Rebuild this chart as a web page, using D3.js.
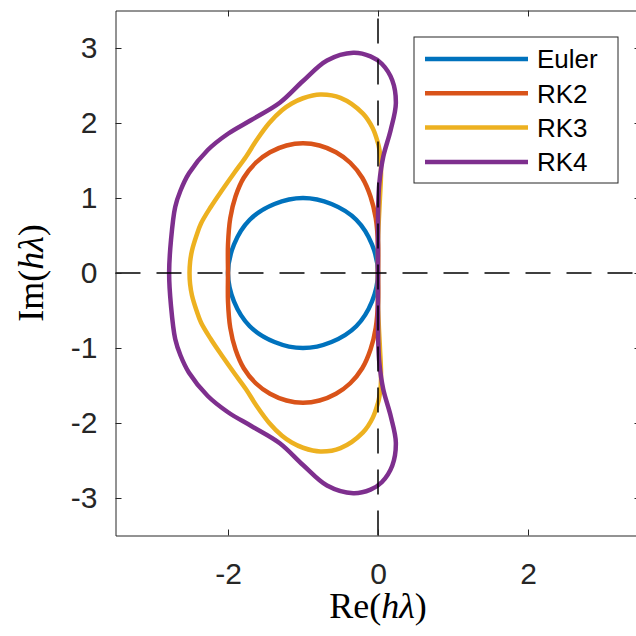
<!DOCTYPE html>
<html>
<head>
<meta charset="utf-8">
<script src="https://cdn.jsdelivr.net/npm/d3@7"></script>
<style>
  body { margin: 0; background: #fff; }
  svg { display: block; }
</style>
</head>
<body>
<div id="chart-area"></div>
<script>
// stability region boundaries, [Re, Im]
var methods = ["Euler", "RK2", "RK3", "RK4"];
var colors = ["#0072BD", "#D95319", "#EDB120", "#7E2F8E"];

var eulerPts = [[0,0],[-0.08,0.38],[-0.29,0.71],[-0.62,0.92],[-1,1],[-1.38,0.92],[-1.71,0.71],[-1.92,0.38],
  [-2,0],[-1.92,-0.38],[-1.71,-0.71],[-1.38,-0.92],[-1,-1],[-0.62,-0.92],[-0.29,-0.71],[-0.08,-0.38]];

var rk2Pts = [[0,0],[0,0.38],[-0.03,0.73],[-0.10,1.02],[-0.21,1.27],[-0.37,1.47],[-0.56,1.61],[-0.78,1.70],
  [-1,1.73],[-1.22,1.70],[-1.44,1.61],[-1.63,1.47],[-1.79,1.27],[-1.90,1.02],[-1.97,0.73],[-2,0.38],
  [-2,0],[-2,-0.38],[-1.97,-0.73],[-1.90,-1.02],[-1.79,-1.27],[-1.63,-1.47],[-1.44,-1.61],[-1.22,-1.70],
  [-1,-1.73],[-0.78,-1.70],[-0.56,-1.61],[-0.37,-1.47],[-0.21,-1.27],[-0.10,-1.02],[-0.03,-0.73],[0,-0.38]];

var rk3Pts = [[0,0],[0.003,0.5],[0.026,1.0],[0.04,1.3],[0.037,1.5],[0.018,1.65],[0,1.73],[-0.07,1.93],
  [-0.2,2.125],[-0.5,2.335],[-0.77,2.38],[-1.0,2.33],[-1.15,2.26],[-1.28,2.17],[-1.45,2.0],[-1.62,1.77],
  [-1.76,1.55],[-1.92,1.33],[-2.075,1.11],[-2.23,0.88],[-2.36,0.66],[-2.42,0.5],[-2.48,0.3],[-2.505,0.15],
  [-2.513,0],
  [-2.505,-0.15],[-2.48,-0.3],[-2.42,-0.5],[-2.36,-0.66],[-2.23,-0.88],[-2.075,-1.11],[-1.92,-1.33],
  [-1.76,-1.55],[-1.62,-1.77],[-1.45,-2.0],[-1.28,-2.17],[-1.15,-2.26],[-1.0,-2.33],[-0.77,-2.38],
  [-0.5,-2.335],[-0.2,-2.125],[-0.07,-1.93],[0,-1.73],[0.018,-1.65],[0.037,-1.5],[0.04,-1.3],
  [0.026,-1.0],[0.003,-0.5]];

var rk4Pts = [[0,0],[0,0.5],[0.003,0.9],[0.018,1.2],[0.07,1.55],[0.17,1.91],[0.238,2.26],[0.19,2.57],
  [0.05,2.79],[-0.1,2.889],[-0.33,2.937],[-0.68,2.834],[-1.0,2.56],[-1.31,2.27],[-1.69,2.04],
  [-1.995,1.86],[-2.27,1.64],[-2.52,1.33],[-2.633,1.1],[-2.704,0.88],[-2.76,0.44],[-2.785,0],
  [-2.76,-0.44],[-2.704,-0.88],[-2.633,-1.1],[-2.52,-1.33],[-2.27,-1.64],[-1.995,-1.86],[-1.69,-2.04],
  [-1.31,-2.27],[-1.0,-2.56],[-0.68,-2.834],[-0.33,-2.937],[-0.1,-2.889],[0.05,-2.79],[0.19,-2.57],
  [0.238,-2.26],[0.17,-1.91],[0.07,-1.55],[0.018,-1.2],[0.003,-0.9],[0,-0.5]];

var curves = [eulerPts, rk2Pts, rk3Pts, rk4Pts];
var xTicks = [-2, 0, 2];
var yTicks = [-3, -2, -1, 0, 1, 2, 3];
var axisMin = -3.5, axisMax = 3.5;

var W = 636, H = 636;
var plotLeft = 115.5, plotRight = 640.5, plotTop = 10.5, plotBottom = 535.5;
var axisColor = "#262626";

var svg = d3.select("#chart-area").append("svg")
    .attr("width", W)
    .attr("height", H);

var x = d3.scaleLinear().domain([axisMin, axisMax]).range([plotLeft, plotRight]);
var y = d3.scaleLinear().domain([axisMin, axisMax]).range([plotBottom, plotTop]);

var line = d3.line()
    .x(function(d){ return x(d[0]); })
    .y(function(d){ return y(d[1]); })
    .curve(d3.curveCatmullRomClosed.alpha(0.5));

// curves
svg.selectAll(".region")
    .data(curves)
    .enter()
    .append("path")
    .attr("class", "region")
    .attr("d", line)
    .attr("fill", "none")
    .attr("stroke", function(d, i){ return colors[i]; })
    .attr("stroke-width", 4.5)
    .attr("stroke-linejoin", "round");

// dashed zero lines
svg.append("line")
    .attr("x1", x(axisMin)).attr("y1", y(0))
    .attr("x2", x(axisMax)).attr("y2", y(0))
    .attr("stroke", "#000").attr("stroke-width", 1.5)
    .style("stroke-dasharray", "25,16");
svg.append("line")
    .attr("x1", x(0)).attr("y1", y(axisMin))
    .attr("x2", x(0)).attr("y2", y(axisMax))
    .attr("stroke", "#000").attr("stroke-width", 1.5)
    .style("stroke-dasharray", "25,16");

// axes (box with inward ticks)
var fmt = function(d){ return String(d); };
var xAxisCall = d3.axisBottom(x).tickValues(xTicks).tickFormat(fmt)
    .tickSizeInner(-6).tickSizeOuter(0).tickPadding(27);
var yAxisCall = d3.axisLeft(y).tickValues(yTicks).tickFormat(fmt)
    .tickSizeInner(-6).tickSizeOuter(0).tickPadding(18);

var gx = svg.append("g")
    .attr("transform", "translate(0," + plotBottom + ")")
    .call(xAxisCall);
var gy = svg.append("g")
    .attr("transform", "translate(" + plotLeft + ",0)")
    .call(yAxisCall);
var gt = svg.append("g")
    .attr("transform", "translate(0," + plotTop + ")")
    .call(d3.axisTop(x).tickValues(xTicks).tickSizeInner(-6).tickSizeOuter(0).tickFormat(""));
var gr = svg.append("g")
    .attr("transform", "translate(" + plotRight + ",0)")
    .call(d3.axisRight(y).tickValues(yTicks).tickSizeInner(-6).tickSizeOuter(0).tickFormat(""));

[gx, gy, gt, gr].forEach(function(g){
    g.select(".domain").attr("stroke", axisColor).attr("stroke-width", 1);
    g.selectAll(".tick line").attr("stroke", axisColor).attr("stroke-width", 1);
    g.selectAll(".tick text")
        .attr("fill", axisColor)
        .style("font-family", "'Liberation Sans', Arial, sans-serif")
        .style("font-size", "30px");
});

// axis labels
var xl = svg.append("text")
    .attr("x", x(0))
    .attr("y", 618)
    .attr("text-anchor", "middle")
    .style("font-family", "'Liberation Serif', 'DejaVu Serif', serif")
    .style("font-size", "36px")
    .attr("fill", "#000");
xl.append("tspan").text("Re(");
xl.append("tspan").style("font-style", "italic").text("hλ");
xl.append("tspan").text(")");

var yl = svg.append("text")
    .attr("transform", "translate(43," + y(0) + ") rotate(-90)")
    .attr("text-anchor", "middle")
    .style("font-family", "'Liberation Serif', 'DejaVu Serif', serif")
    .style("font-size", "36px")
    .attr("fill", "#000");
yl.append("tspan").text("Im(");
yl.append("tspan").style("font-style", "italic").text("hλ");
yl.append("tspan").text(")");

// legend
var legend = svg.append("g").attr("transform", "translate(414,37)");
legend.append("rect")
    .attr("x", 0).attr("y", 0)
    .attr("width", 204).attr("height", 146)
    .attr("fill", "#fff")
    .attr("stroke", axisColor)
    .attr("stroke-width", 1);

var rows = legend.selectAll(".row")
    .data(methods)
    .enter()
    .append("g")
    .attr("class", "row")
    .attr("transform", function(d, i){ return "translate(0," + (22 + i * 34.3) + ")"; });

rows.append("line")
    .attr("x1", 11).attr("x2", 114)
    .attr("y1", 0).attr("y2", 0)
    .attr("stroke", function(d, i){ return colors[i]; })
    .attr("stroke-width", 4.5);

rows.append("text")
    .attr("x", 123)
    .attr("dy", "0.36em")
    .style("font-family", "'Liberation Sans', Arial, sans-serif")
    .style("font-size", "26px")
    .attr("fill", "#000")
    .text(function(d){ return d; });
</script>
</body>
</html>
